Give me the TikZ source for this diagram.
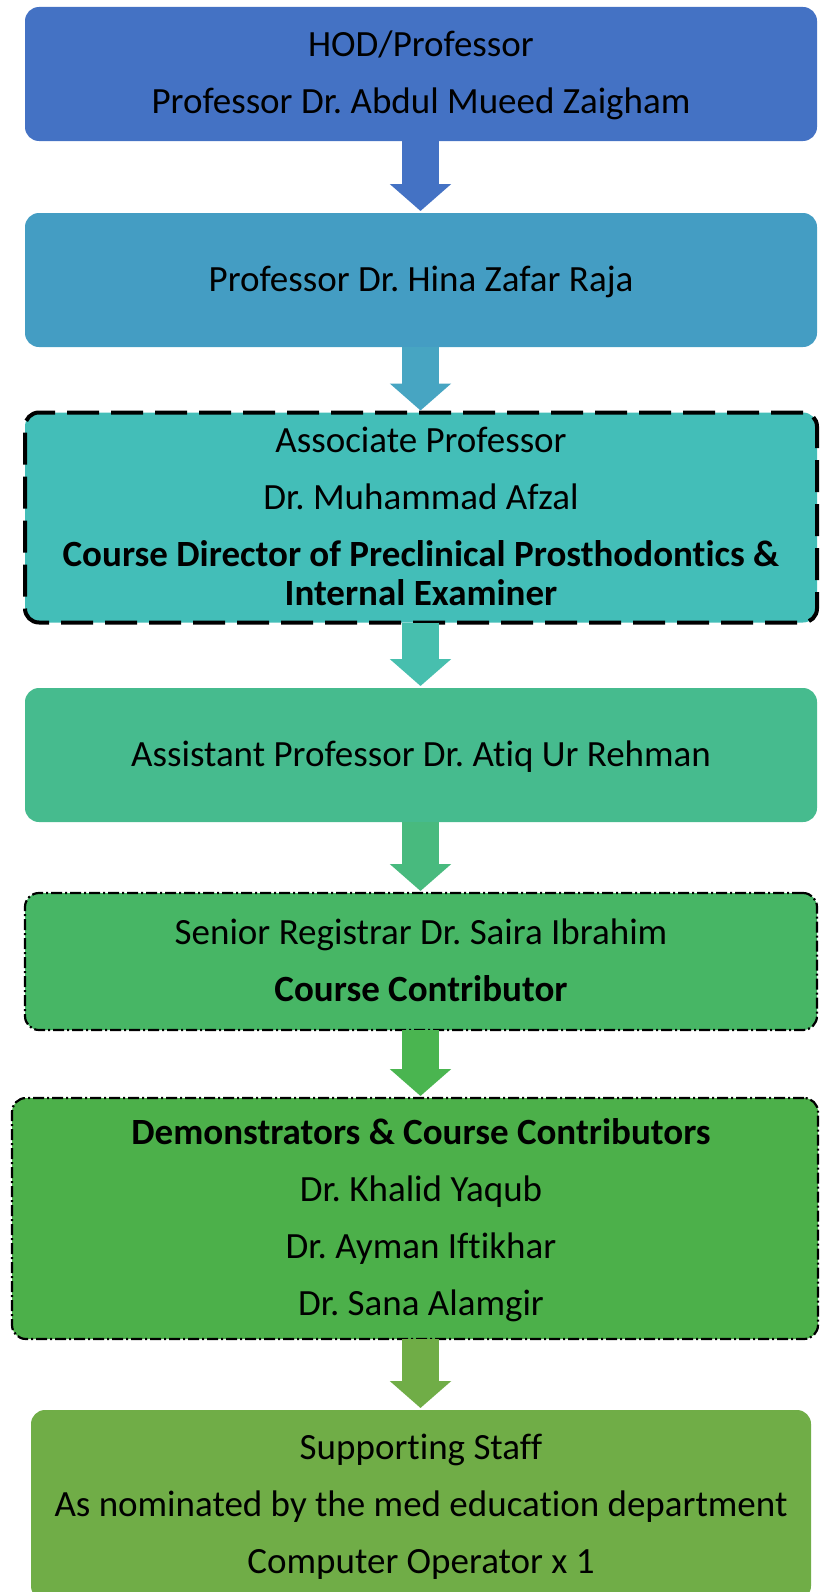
\documentclass[tikz,border=0pt]{standalone}
\usepackage{fontspec}
\setmainfont{Carlito}[Ligatures=NoCommon]
\usetikzlibrary{arrows.meta}
\frenchspacing
\definecolor{cA}{HTML}{4472C4}
\definecolor{cB}{HTML}{449DC3}
\definecolor{cC}{HTML}{43BEB8}
\definecolor{cD}{HTML}{46BB8E}
\definecolor{cE}{HTML}{47B665}
\definecolor{cF}{HTML}{4CB04A}
\definecolor{cG}{HTML}{70AD47}
\definecolor{aA}{HTML}{4472C4}
\definecolor{aB}{HTML}{47A5C2}
\definecolor{aC}{HTML}{47BFAE}
\definecolor{aD}{HTML}{48BA7E}
\definecolor{aE}{HTML}{4AB550}
\definecolor{aF}{HTML}{70AD47}
\tikzset{
  box/.style={rounded corners=14pt, inner sep=0pt, outer sep=0pt, align=center,
    font=\fontsize{37}{57}\selectfont\frenchspacing, text=black},
  txt/.style={inner sep=0pt, align=center, font=\fontsize{37}{57}\selectfont\frenchspacing, text=black},
  dashbox/.style={draw=black, line width=4pt, dash pattern=on 32pt off 12pt},
  dotbox/.style={draw=black, line width=2.2pt, dash pattern=on 11pt off 3pt on 2pt off 3pt},
  flow/.style={line width=37pt, -{Triangle[width=60pt,length=27pt]}, shorten >=2pt}
}
\begin{document}
\begin{tikzpicture}[x=1pt,y=-1pt]
\path[use as bounding box, clip] (0,0) rectangle (819,1592);
\coordinate (ax) at (420.5,0);
% boxes
\node[box, fill=cA, minimum width=792pt, minimum height=134pt] (b1) at (421,74)
  {\strut HOD/Professor\\\strut Professor Dr. Abdul Mueed Zaigham};
\node[box, fill=cB, minimum width=792pt, minimum height=134pt] (b2) at (421,280)
  {\strut Professor Dr. Hina Zafar Raja};
\node[box, fill=cC, dashbox, minimum width=792pt, minimum height=201pt] (b3) at (421,517.5)
  {\strut Associate Professor\\\strut Dr. Muhammad Afzal\\\strut\textbf{Course Director of Preclinical Prosthodontics \&}\\[-18pt]\strut\textbf{Internal Examiner}};
\node[box, fill=cD, minimum width=792pt, minimum height=134pt] (b4) at (421,755)
  {\strut Assistant Professor Dr. Atiq Ur Rehman};
\node[box, fill=cE, dotbox, minimum width=792pt, minimum height=137pt] (b5) at (421,961.5)
  {\strut Senior Registrar Dr. Saira Ibrahim\\\strut\textbf{Course Contributor}};
\node[box, fill=cF, dotbox, minimum width=806pt, minimum height=241pt] (b6) at (415,1218.5) {};
\node[txt] (t6) at (421,1218.5)
  {\strut\textbf{Demonstrators \& Course Contributors}\\\strut Dr. Khalid Yaqub\\\strut Dr. Ayman Iftikhar\\\strut Dr. Sana Alamgir};
\node[box, fill=cG, minimum width=780pt, minimum height=190pt] (b7) at (421,1505)
  {\strut Supporting Staff\\\strut As nominated by the med education department\\\strut Computer Operator x 1};
% arrows
\draw[flow, aA] (b1.south -| ax) -- (b2.north -| ax);
\draw[flow, aB] (b2.south -| ax) -- (b3.north -| ax);
\draw[flow, aC] (b3.south -| ax) -- (b4.north -| ax);
\draw[flow, aD] (b4.south -| ax) -- (b5.north -| ax);
\draw[flow, aE] (b5.south -| ax) -- (b6.north -| ax);
\draw[flow, aF] (b6.south -| ax) -- (b7.north -| ax);
\end{tikzpicture}
\end{document}
